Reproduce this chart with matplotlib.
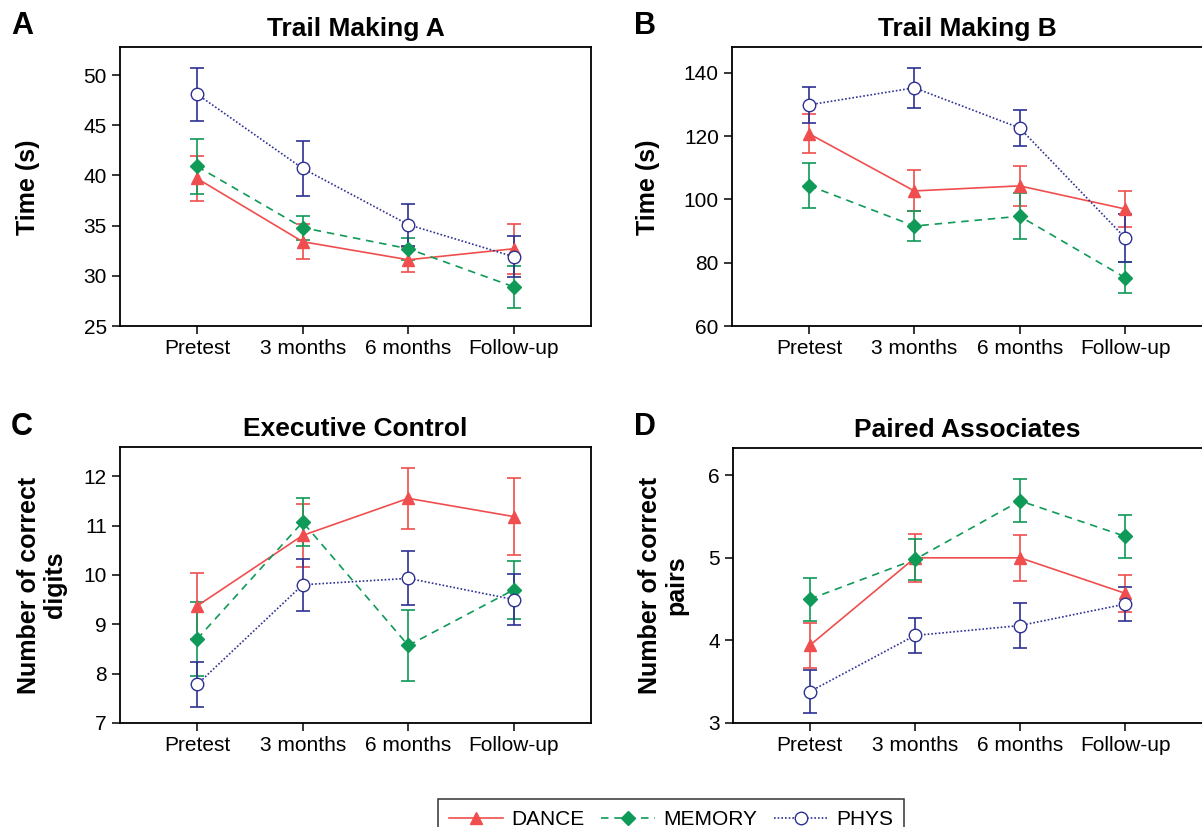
import numpy as np
import matplotlib
matplotlib.use('Agg')
import matplotlib.pyplot as plt

plt.rcParams['font.family'] = ['Liberation Sans', 'DejaVu Sans']

# 数据
timepoints = ['Pretest', '3 months', '6 months', 'Follow-up']
groups = ['DANCE', 'MEMORY', 'PHYS']

# A: Trail Making A
a_dance = [39.7, 33.4, 31.6, 32.7]
a_dance_err = [2.2, 1.75, 1.25, 2.5]
a_memory = [40.9, 34.8, 32.7, 28.9]
a_memory_err = [2.75, 1.2, 1.1, 2.1]
a_phys = [48.1, 40.7, 35.1, 31.9]
a_phys_err = [2.65, 2.7, 2.1, 2.05]

# B: Trail Making B
b_dance = [120.8, 102.7, 104.3, 97.0]
b_dance_err = [6.1, 6.5, 6.4, 5.7]
b_memory = [104.4, 91.6, 94.7, 75.3]
b_memory_err = [7.0, 4.7, 7.2, 4.8]
b_phys = [129.9, 135.3, 122.6, 87.9]
b_phys_err = [5.6, 6.4, 5.8, 7.6]

# C: Executive Control
c_dance = [9.37, 10.8, 11.55, 11.18]
c_dance_err = [0.67, 0.64, 0.62, 0.78]
c_memory = [8.7, 11.07, 8.57, 9.7]
c_memory_err = [0.75, 0.48, 0.72, 0.59]
c_phys = [7.78, 9.8, 9.93, 9.5]
c_phys_err = [0.45, 0.53, 0.55, 0.51]

# D: Paired Associates
d_dance = [3.94, 5.0, 5.0, 4.57]
d_dance_err = [0.27, 0.29, 0.28, 0.22]
d_memory = [4.5, 4.98, 5.69, 5.26]
d_memory_err = [0.26, 0.25, 0.26, 0.26]
d_phys = [3.38, 4.06, 4.18, 4.44]
d_phys_err = [0.26, 0.21, 0.27, 0.21]

RED = '#f04e4e'
GREEN = '#0f9a58'
BLUE = '#2e3192'

W, H = 1202, 827
fig = plt.figure(figsize=(W / 100, H / 100), dpi=100)


def px_axes(left, top, right, bottom):
    return fig.add_axes([left / W, 1 - bottom / H, (right - left) / W, (bottom - top) / H])


def draw_panel(ax, series, title, ylim, yticks, letter, letter_xy, ylabel, ylabel_xy, box=True):
    x = np.arange(len(timepoints))
    handles = []
    styles = [
        dict(color=RED, marker='^', mfc=RED, ls='-', ms=8),
        dict(color=GREEN, marker='D', mfc=GREEN, ls=(0, (4.5, 3.5)), ms=7.5),
        dict(color=BLUE, marker='o', mfc='white', ls=(0, (1, 1.2)), ms=9),
    ]
    for (vals, err), st in zip(series, styles):
        cont = ax.errorbar(x, vals, yerr=err, color=st['color'], marker=st['marker'],
                           markerfacecolor=st['mfc'], markeredgecolor=st['color'],
                           markersize=st['ms'], linestyle=st['ls'], linewidth=1.2,
                           elinewidth=1.2, capsize=5, capthick=1.2)
        handles.append(cont[0])
    ax.set_xlim(-0.73, 3.73)
    ax.set_ylim(*ylim)
    ax.set_yticks(yticks)
    ax.set_xticks(x)
    ax.set_xticklabels(timepoints)
    ax.tick_params(labelsize=15, length=6, width=1.1, direction='out')
    for s in ax.spines.values():
        s.set_linewidth(1.3)
    if not box:
        ax.spines['right'].set_visible(False)
    ax.set_title(title, fontsize=19, fontweight='bold', pad=8)
    fig.text(letter_xy[0] / W, 1 - letter_xy[1] / H, letter, fontsize=22,
             fontweight='bold', ha='center', va='center')
    fig.text(ylabel_xy[0] / W, 1 - ylabel_xy[1] / H, ylabel, fontsize=18,
             fontweight='bold', rotation=90, ha='center', va='center',
             multialignment='center', linespacing=1.1)
    return handles


ax_a = px_axes(120, 47, 591, 326)
handles = draw_panel(ax_a, [(a_dance, a_dance_err), (a_memory, a_memory_err), (a_phys, a_phys_err)],
                     'Trail Making A', (25, 52.8), [25, 30, 35, 40, 45, 50],
                     'A', (22, 26), 'Time (s)', (28, 187))

ax_b = px_axes(732, 47, 1202, 326)
draw_panel(ax_b, [(b_dance, b_dance_err), (b_memory, b_memory_err), (b_phys, b_phys_err)],
           'Trail Making B', (60, 148.2), [60, 80, 100, 120, 140],
           'B', (645, 26), 'Time (s)', (648, 187), box=False)

ax_c = px_axes(120, 447, 591, 723)
draw_panel(ax_c, [(c_dance, c_dance_err), (c_memory, c_memory_err), (c_phys, c_phys_err)],
           'Executive Control', (7, 12.59), [7, 8, 9, 10, 11, 12],
           'C', (22, 427), 'Number of correct\ndigits', (42, 585))

ax_d = px_axes(733, 448, 1202, 723)
draw_panel(ax_d, [(d_dance, d_dance_err), (d_memory, d_memory_err), (d_phys, d_phys_err)],
           'Paired Associates', (3, 6.33), [3, 4, 5, 6],
           'D', (645, 427), 'Number of correct\npairs', (663, 585), box=False)

leg = fig.legend(handles, groups, loc='upper center', bbox_to_anchor=(671 / W, 1 - 789 / H),
                 ncol=3, fontsize=15, frameon=True, fancybox=False, edgecolor='black',
                 handlelength=2.6, columnspacing=0.8, handletextpad=0.4, borderpad=0.5)
leg.get_frame().set_linewidth(1.1)

fig.savefig('out.png', dpi=100)
